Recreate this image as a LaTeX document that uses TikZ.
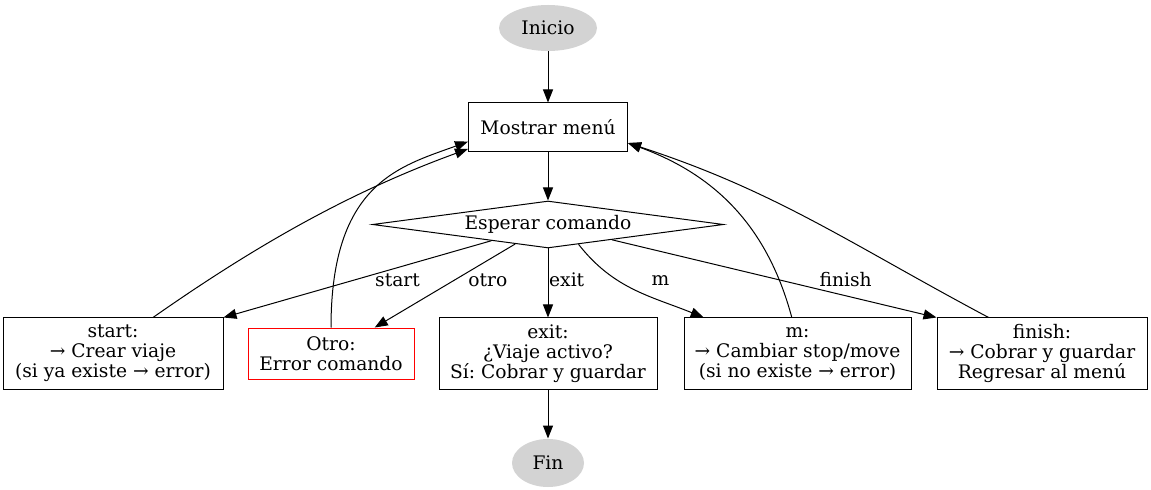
\documentclass[tikz,border=0pt]{standalone}
\usepackage{fontspec}
\setmainfont{DejaVu Serif}
\usepackage{xcolor}
\usepackage{tikz}
\usetikzlibrary{shapes.geometric,arrows.meta,positioning}
\definecolor{termgray}{HTML}{D3D3D3}
\frenchspacing
\tikzset{>={Triangle[length=9.75pt,width=7.5pt]}}
\tikzset{term node/.style={ellipse,fill=termgray,inner sep=0pt},
         box node/.style={rectangle,draw,align=center,inner sep=2pt,minimum height=53.25pt},
         choice node/.style={diamond,draw,aspect=7.5,inner sep=0pt,minimum width=263.25pt,minimum height=35.25pt},
         edge label/.style={inner sep=1pt},
            }

\begin{document}
\begin{tikzpicture}[x=0.75pt,y=0.75pt,line width=0.75pt,font=\fontsize{14}{15}\selectfont]

    \useasboundingbox (0,0) rectangle (1151,489);

    \node[term node,minimum width=73.5pt,minimum height=34.5pt] (inicio) at (548,461) {Inicio};
    \node[box node,minimum width=119.25pt,minimum height=36.75pt] (menu) [below = 38.25pt of inicio] {Mostrar menú};
    \node[choice node] (esperar) [below = 36pt of menu] {Esperar comando};
    \node[box node,minimum width=163.5pt] (exit) [below = 51.75pt of esperar] {exit:\\¿Viaje activo?\\Sí: Cobrar y guardar};
    \node[box node,draw=red,minimum width=124.5pt,minimum height=38.25pt] (otro) [left = 18pt of exit] {Otro:\\Error comando};
    \node[box node,minimum width=165pt] (start) [left = 18pt of otro] {start:\\→ Crear viaje\\(si ya existe → error)};
    \node[box node,minimum width=170.25pt] (mcmd) [right = 19.5pt of exit] {m:\\→ Cambiar stop/move\\(si no existe → error)};
    \node[box node,minimum width=157.5pt] (finish) [right = 18.75pt of mcmd] {finish:\\→ Cobrar y guardar\\Regresar al menú};
    \node[term node,minimum width=54pt,minimum height=36pt] (fin) [below = 36.75pt of exit] {Fin};

    \path[->]
    (inicio) edge (menu)
    (menu) edge (esperar)
    (esperar) edge node[edge label,pos=0.35,below=3pt] {start} (start.north east)
    (esperar) edge node[edge label,pos=0.46,right=12pt,yshift=1.5pt] {otro} (otro)
    (esperar) edge node[edge label,pos=0.46,right=-0.5pt] {exit} (exit)
    (esperar.-33) edge[out=-52,in=158] node[edge label,pos=0.5,above right=2pt,xshift=10pt] {m} (mcmd.159)
    (esperar) edge node[edge label,pos=0.72,above=5.5pt] {finish} (finish.north west)
    (exit) edge (fin)
    (start.42) edge[out=35,in=200,looseness=0.9] (menu.195)
    (otro) edge[out=90,in=200,out looseness=1.6,in looseness=0.8] (menu.190)
    (mcmd.99) edge[out=105,in=-20] (menu.-11)
    (finish.146) edge[out=152,in=-18] (menu.-11);

\end{tikzpicture}
\end{document}
